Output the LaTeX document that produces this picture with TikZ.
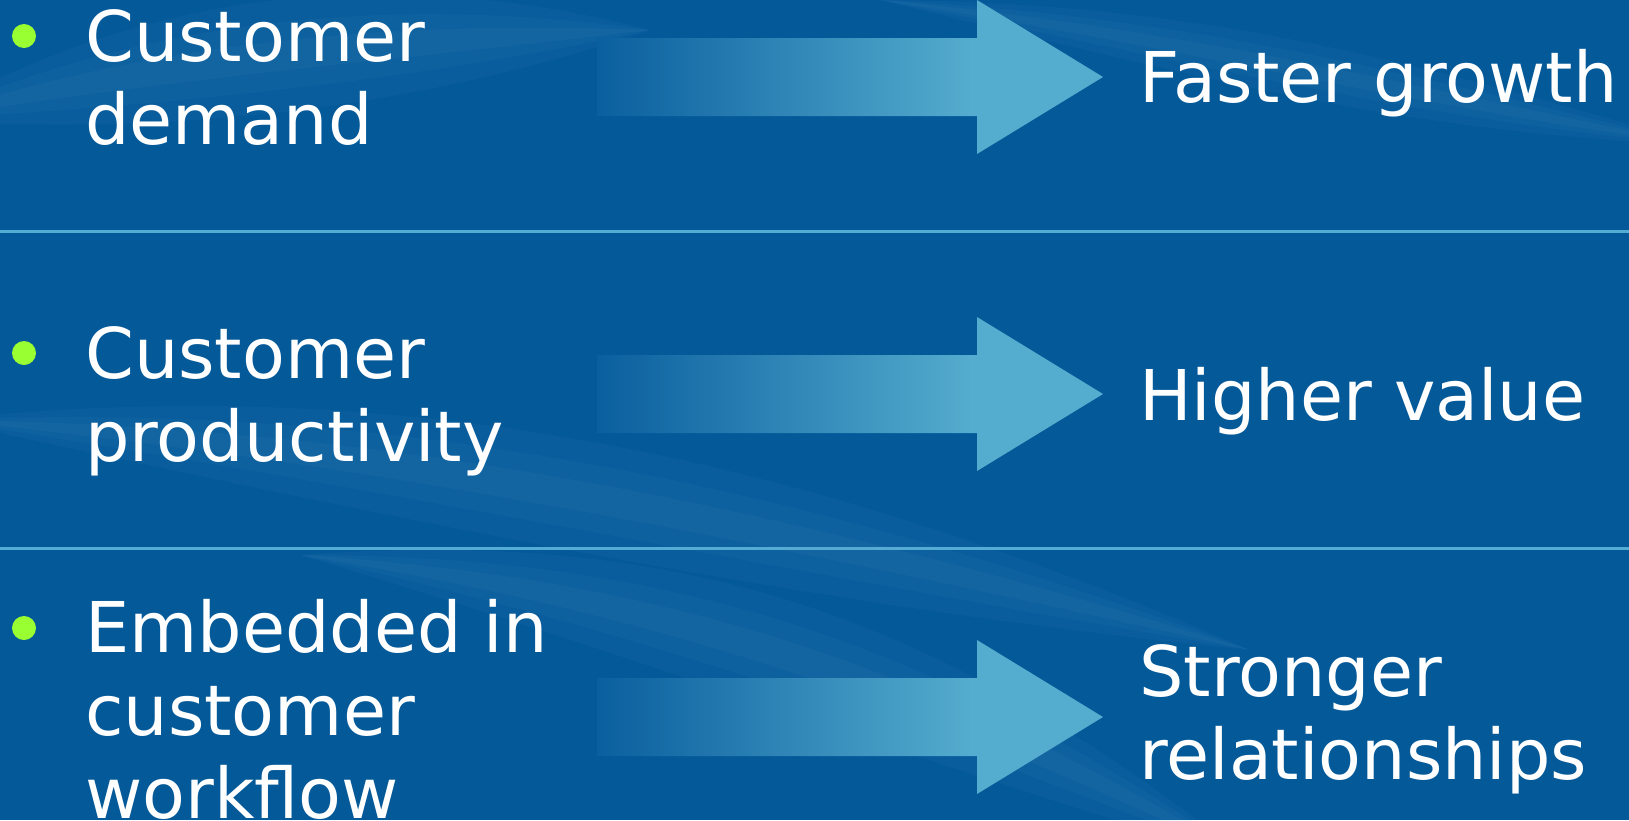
\documentclass[tikz,border=0pt]{standalone}
\usepackage{fontspec}
\setmainfont{DejaVu Sans}
\usetikzlibrary{positioning, calc}

\definecolor{slidebg}{RGB}{4,89,153}
\definecolor{swoosh}{RGB}{130,190,230}
\definecolor{rulecol}{RGB}{84,172,212}
\definecolor{arrowlight}{RGB}{84,172,206}
\definecolor{arrowdark}{RGB}{10,95,158}
\definecolor{bulletgreen}{RGB}{153,255,51}

% shaft fades in, head stays light
\pgfdeclarehorizontalshading{arrowfade}{100bp}{color(0bp)=(arrowdark); color(25bp)=(arrowdark); color(62bp)=(arrowlight); color(100bp)=(arrowlight)}

\begin{document}
\begin{tikzpicture}[
    x=1pt, y=-1pt,
    every node/.style={
        font=\fontsize{70}{83}\selectfont,
        text=white,
        inner sep=0pt
    },
    item/.style={
        anchor=base west,
        align=left
    },
    result/.style={
        anchor=base west,
        align=left
    },
    bullet/.style={
        circle,
        fill=bulletgreen,
        minimum size=24pt
    },
    sepline/.style={
        draw=rulecol,
        line width=3pt
    },
    fatarrow/.style={
        shading=arrowfade
    },
    swoosh/.style={
        fill=swoosh,
        opacity=0.045
    }
]

    % Background
    \fill[slidebg] (0,0) rectangle (1629,820);
    \useasboundingbox (0,0) rectangle (1629,820);

    % Light streaks (lens shaped, stacked for soft edges)
    \foreach \w in {20,45,75} {
        \fill[swoosh] (-60,420) .. controls (400,{445-\w}) and (800,{530-\w}) .. (1250,650)
            .. controls (800,{530+\w}) and (400,{445+\w}) .. cycle;
        \fill[swoosh] (300,555) .. controls (700,{600-\w}) and (950,{700-\w}) .. (1250,860)
            .. controls (950,{700+\w}) and (700,{600+\w}) .. cycle;
        \fill[swoosh] (880,0) .. controls (1200,{40-\w/2}) and (1400,{95-\w/2}) .. (1700,145)
            .. controls (1400,{95+\w/2}) and (1200,{40+\w/2}) .. cycle;
        \fill[swoosh] (-80,120) .. controls (150,{60-\w}) and (400,{40-\w}) .. (650,30)
            .. controls (400,{40+\w}) and (150,{60+\w}) .. cycle;
    }

    % Row separators
    \draw[sepline] (0,231) -- (1629,231);
    \draw[sepline] (0,548) -- (1629,548);

    % Left column (base anchor sits on the last line)
    \node[bullet] (b1) at (24,36) {};
    \node[item] (demand) at (85,144) {Customer\\demand};

    \node[bullet] (b2) at (24,353) {};
    \node[item] (prod) at (85,461) {Customer\\productivity};

    \node[bullet] (b3) at (24,628) {};
    \node[item] (embed) at (85,818) {Embedded in\\customer\\workflow};

    % Right column
    \node[result] (growth) at (1139,102) {Faster growth};
    \node[result] (value) at (1139,420) {Higher value};
    \node[result] (relation) at (1139,779) {Stronger\\relationships};

    % Arrows
    \coordinate (a1) at (597,77);
    \coordinate (a2) at (597,394);
    \coordinate (a3) at (597,717);
    \shade[fatarrow] (a1) ++(0,-39) -- ++(380,0) -- ++(0,-38) -- ++(126,77)
        -- ++(-126,77) -- ++(0,-38) -- ++(-380,0) -- cycle;
    \shade[fatarrow] (a2) ++(0,-39) -- ++(380,0) -- ++(0,-38) -- ++(126,77)
        -- ++(-126,77) -- ++(0,-38) -- ++(-380,0) -- cycle;
    \shade[fatarrow] (a3) ++(0,-39) -- ++(380,0) -- ++(0,-38) -- ++(126,77)
        -- ++(-126,77) -- ++(0,-38) -- ++(-380,0) -- cycle;

\end{tikzpicture}
\end{document}
